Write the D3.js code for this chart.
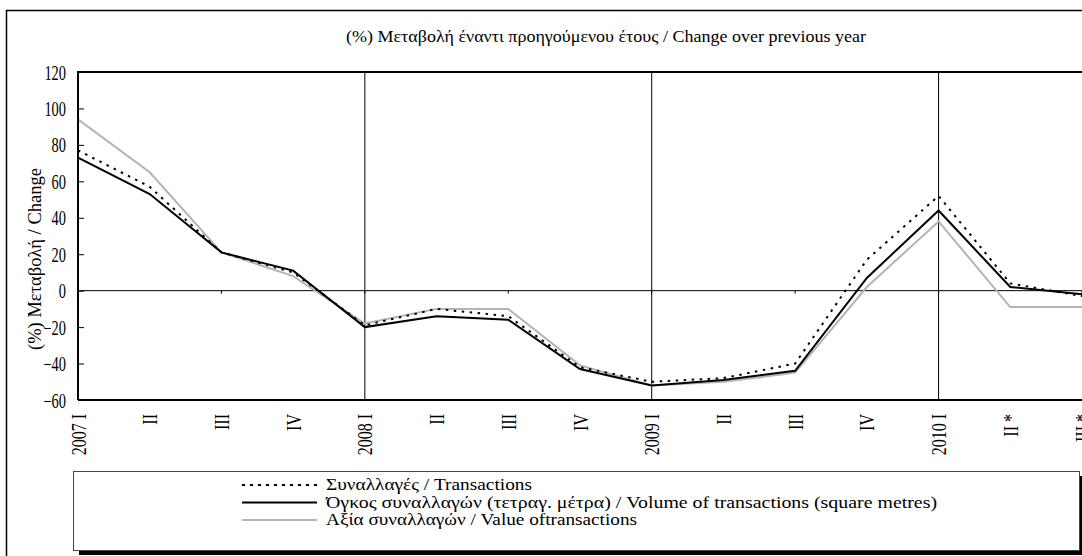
<!DOCTYPE html>
<html>
<head>
<meta charset="utf-8">
<script src="https://cdn.jsdelivr.net/npm/d3@7"></script>
<style>
  body { margin: 0; background: #fff; }
  svg, svg text { font-family: "Liberation Serif", "Times New Roman", serif; }
</style>
</head>
<body>
<div id="chart"></div>
<script>
// Quarters on the category axis
const quarters = ["2007 I", "II", "III", "IV", "2008 I", "II", "III", "IV",
                  "2009 I", "II", "III", "IV", "2010 I", "II *", "III *"];

// (%) change over previous year
const transactions = [77, 57, 21, 10, -19, -10, -14, -42, -50, -48, -40, 17, 52, 4, -3];
const volume       = [73, 53, 21, 11, -20, -14, -16, -43, -52, -49, -44, 7, 44, 2, -2];
const value        = [94, 65, 21, 8, -18, -10, -10, -41, -52, -50, -45, 2, 38, -9, -9];

const yTicks = [-60, -40, -20, 0, 20, 40, 60, 80, 100, 120];

const seriesNames = [
    "Συναλλαγές / Transactions",
    "Όγκος συναλλαγών (τετραγ. μέτρα) / Volume of transactions (square metres)",
    "Αξία συναλλαγών / Value oftransactions"
];

const title = "(%) Μεταβολή έναντι προηγούμενου έτους / Change over previous year";
const yTitle = "(%) Μεταβολή / Change";

const width = 1082;
const height = 556;
const serif = "Liberation Serif, Times New Roman, serif";

const svg = d3.select("#chart")
    .append("svg")
    .attr("width", width)
    .attr("height", height)
    .attr("font-family", serif);

// Outer frame of the whole figure (runs off the right and bottom edge)
svg.append("rect")
    .attr("x", 6.5)
    .attr("y", 10.5)
    .attr("width", 1200)
    .attr("height", 700)
    .attr("fill", "none")
    .attr("stroke", "#000")
    .attr("stroke-width", 1.5);

const x = d3.scalePoint()
    .domain(d3.range(quarters.length))
    .range([78, 1082]);

const y = d3.scaleLinear()
    .domain([-60, 120])
    .range([400, 72]);

// Title
svg.append("text")
    .attr("x", 606)
    .attr("y", 42)
    .attr("text-anchor", "middle")
    .attr("font-family", serif)
    .attr("font-size", 17)
    .attr("textLength", 520)
    .attr("lengthAdjust", "spacingAndGlyphs")
    .text(title);

// Vertical lines at the start of each year
const yearIdx = d3.range(quarters.length).filter(i => i > 0 && /\d{4}/.test(quarters[i]));
svg.selectAll(".year-line")
    .data(yearIdx)
    .enter()
    .append("line")
    .attr("x1", i => x(i))
    .attr("x2", i => x(i))
    .attr("y1", y(120))
    .attr("y2", y(-60))
    .attr("stroke", "#000")
    .attr("stroke-width", 1);

// Zero line with small ticks every second quarter
svg.append("line")
    .attr("x1", x(0))
    .attr("x2", 1082)
    .attr("y1", y(0))
    .attr("y2", y(0))
    .attr("stroke", "#000")
    .attr("stroke-width", 1);

svg.selectAll(".zero-tick")
    .data(d3.range(0, quarters.length, 2))
    .enter()
    .append("line")
    .attr("x1", i => x(i))
    .attr("x2", i => x(i))
    .attr("y1", y(0))
    .attr("y2", y(0) + 3)
    .attr("stroke", "#000")
    .attr("stroke-width", 1);

// Series lines
const line = d3.line()
    .x((d, i) => x(i))
    .y(d => y(d));

svg.append("path")
    .datum(value)
    .attr("d", line)
    .attr("fill", "none")
    .attr("stroke", "#b4b4b4")
    .attr("stroke-width", 2);

svg.append("path")
    .datum(volume)
    .attr("d", line)
    .attr("fill", "none")
    .attr("stroke", "#000")
    .attr("stroke-width", 2);

svg.append("path")
    .datum(transactions)
    .attr("d", line)
    .attr("fill", "none")
    .attr("stroke", "#000")
    .attr("stroke-width", 2)
    .attr("stroke-dasharray", "2.5,5.5");

// Plot frame: left, top and bottom
svg.append("path")
    .attr("d", `M${x(0)},${y(-60)}V${y(120)}H1090M${x(0)},${y(-60)}H1090`)
    .attr("fill", "none")
    .attr("stroke", "#000")
    .attr("stroke-width", 2);

// Y axis
svg.append("g")
    .attr("transform", `translate(${x(0)},0)`)
    .call(d3.axisLeft(y).tickValues(yTicks).tickSizeInner(-6).tickSizeOuter(0))
    .attr("font-family", serif)
    .attr("font-size", 20)
    .call(g => g.select(".domain").remove())
    .call(g => g.selectAll(".tick line").attr("stroke", "#000"))
    .call(g => g.selectAll(".tick text")
        .attr("x", 0)
        .attr("dy", "0.35em")
        .attr("transform", "translate(-12,0) scale(0.72,1)")
        .attr("fill", "#000"));

// X axis labels, rotated
svg.append("g")
    .attr("transform", `translate(0,${y(-60)})`)
    .call(d3.axisBottom(x).tickSize(0).tickFormat(i => quarters[i]))
    .attr("font-family", serif)
    .attr("font-size", 20)
    .call(g => g.select(".domain").remove())
    .call(g => g.selectAll(".tick text")
        .attr("x", 0)
        .attr("y", 0)
        .attr("dy", "0.35em")
        .attr("text-anchor", "end")
        .attr("transform", "translate(0,14) rotate(-90) scale(0.8,1)")
        .attr("fill", "#000"));

// Y axis title
svg.append("text")
    .attr("transform", "translate(41,259) rotate(-90)")
    .attr("text-anchor", "middle")
    .attr("font-family", serif)
    .attr("font-size", 19)
    .attr("textLength", 182)
    .attr("lengthAdjust", "spacingAndGlyphs")
    .text(yTitle);

// Legend box with drop shadow
const lg = { x: 73, y: 471, w: 1006, h: 79 };
svg.append("rect")
    .attr("x", lg.x + 6)
    .attr("y", lg.y + 5)
    .attr("width", lg.w)
    .attr("height", lg.h)
    .attr("fill", "#000");
svg.append("rect")
    .attr("x", lg.x + 0.5)
    .attr("y", lg.y + 0.5)
    .attr("width", lg.w)
    .attr("height", lg.h)
    .attr("fill", "#fff")
    .attr("stroke", "#444")
    .attr("stroke-width", 1);

const legendStyles = [
    { stroke: "#000", dash: "3,5" },
    { stroke: "#000", dash: null },
    { stroke: "#b4b4b4", dash: null }
];
const legendLen = [206, 611, 311];

const items = svg.selectAll(".legend-item")
    .data(seriesNames)
    .enter()
    .append("g")
    .attr("transform", (d, i) => `translate(242,${485 + i * 17.5})`);

items.append("line")
    .attr("x1", 0)
    .attr("x2", 75)
    .attr("stroke", (d, i) => legendStyles[i].stroke)
    .attr("stroke-width", 2)
    .attr("stroke-dasharray", (d, i) => legendStyles[i].dash);

items.append("text")
    .attr("x", 84)
    .attr("y", 5)
    .attr("font-family", serif)
    .attr("font-size", 16)
    .attr("textLength", (d, i) => legendLen[i])
    .attr("lengthAdjust", "spacingAndGlyphs")
    .text(d => d);
</script>
</body>
</html>
